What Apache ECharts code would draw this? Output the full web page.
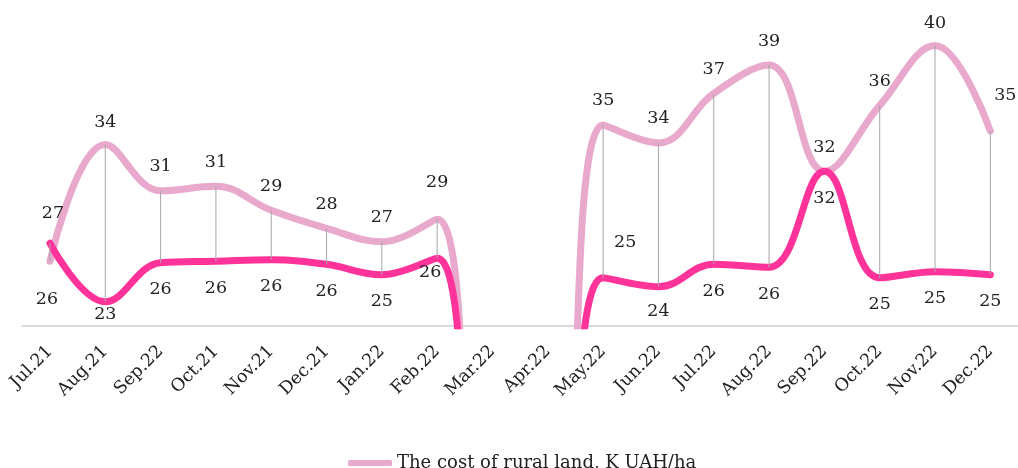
<!DOCTYPE html>
<html>
<head>
<meta charset="utf-8">
<script src="https://cdn.jsdelivr.net/npm/echarts@6/dist/echarts.min.js"></script>
<style>
  html, body { margin: 0; padding: 0; background: #fff; }
  #chart { width: 1018px; height: 468px; }
</style>
</head>
<body>
<div id="chart"></div>
<script>
  // months as printed on the axis (the third one really says Sep.22)
  var months = ['Jul.21', 'Aug.21', 'Sep.22', 'Oct.21', 'Nov.21', 'Dec.21', 'Jan.22', 'Feb.22', 'Mar.22',
    'Apr.22', 'May.22', 'Jun.22', 'Jul.22', 'Aug.22', 'Sep.22', 'Oct.22', 'Nov.22', 'Dec.22'];
  // The cost of rural land, K UAH/ha (labels are rounded)
  var landCost = [25.9, 33.7, 30.6, 30.9, 29.3, 28.1, 27.2, 28.7, 0, 0, 35.0, 33.8, 37.1, 39.0, 31.9, 36.3, 40.3, 34.6];
  // second series, no legend entry visible
  var secondSeries = [27.1, 23.2, 25.8, 25.9, 26.0, 25.7, 25.0, 26.1, 0, 0, 24.8, 24.2, 25.7, 25.5, 31.9, 24.8, 25.2, 25.0];

  var font = 'DejaVu Serif';
  var lightColor = '#e9a9cd';
  var darkColor = '#ff3399';

  // label placement tweaks, by index
  var lightLabel = {
    0: {position: 'bottom', distance: 28, offset: [-3, 0]},
    1: {distance: 12},
    7: {distance: 27},
    16: {distance: 12},
    17: {distance: 25, offset: [15, 0]}
  };
  var darkLabel = {
    0: {position: 'top', distance: 20, offset: [3, 0]},
    1: {distance: 3},
    7: {distance: 4, offset: [-7, 0]},
    10: {position: 'top', distance: 25, offset: [22, 0]},
    11: {distance: 15}
  };

  function toItems(values, tweaks) {
    return values.map(function (v, i) {
      var item = {value: v};
      if (tweaks[i]) item.label = tweaks[i];
      return item;
    });
  }

  var hiLo = [];
  for (var i = 0; i < months.length; i++) {
    if (landCost[i] && secondSeries[i]) hiLo.push([i, landCost[i], secondSeries[i]]);
  }

  function labelText(p) {
    return p.value ? String(Math.round(p.value)) : '';
  }

  var chart = echarts.init(document.getElementById('chart'));
  chart.setOption({
    animation: false,
    textStyle: {fontFamily: font},
    grid: {left: 22.3, right: -3.1, top: 20, bottom: 142.3},
    legend: {
      data: ['The cost of rural land, K UAH/ha'],
      left: 343,
      top: 449,
      icon: 'roundRect',
      itemWidth: 44,
      itemHeight: 6,
      textStyle: {fontFamily: font, fontSize: 18, color: '#222'}
    },
    xAxis: {
      type: 'category',
      data: months,
      boundaryGap: true,
      axisLine: {lineStyle: {color: '#d9d9d9', width: 2}},
      axisTick: {show: false},
      axisLabel: {rotate: 45, margin: 23, interval: 0, fontFamily: font, fontSize: 17.5, color: '#222'}
    },
    yAxis: {
      type: 'value',
      show: false,
      min: 21.6,
      max: 42
    },
    series: [{
      name: 'The cost of rural land, K UAH/ha',
      type: 'line',
      smooth: 0.4,
      data: toItems(landCost, lightLabel),
      symbol: 'circle',
      symbolSize: 2,
      itemStyle: {color: lightColor},
      lineStyle: {color: lightColor, width: 7, cap: 'round'},
      label: {show: true, position: 'top', distance: 14, formatter: labelText,
        fontFamily: font, fontSize: 17.5, color: '#222'},
      z: 2
    }, {
      name: 'Second series',
      type: 'line',
      smooth: 0.4,
      data: toItems(secondSeries, darkLabel),
      symbol: 'circle',
      symbolSize: 2,
      itemStyle: {color: darkColor},
      lineStyle: {color: darkColor, width: 7, cap: 'round'},
      label: {show: true, position: 'bottom', distance: 17, formatter: labelText,
        fontFamily: font, fontSize: 17.5, color: '#222'},
      z: 3
    }, {
      type: 'custom',
      data: hiLo,
      renderItem: function (params, api) {
        var a = api.coord([api.value(0), api.value(1)]);
        var b = api.coord([api.value(0), api.value(2)]);
        return {
          type: 'line',
          shape: {x1: a[0], y1: a[1], x2: b[0], y2: b[1]},
          style: {stroke: '#a6a6a6', lineWidth: 1}
        };
      },
      silent: true,
      z: 4
    }]
  });
</script>
</body>
</html>
